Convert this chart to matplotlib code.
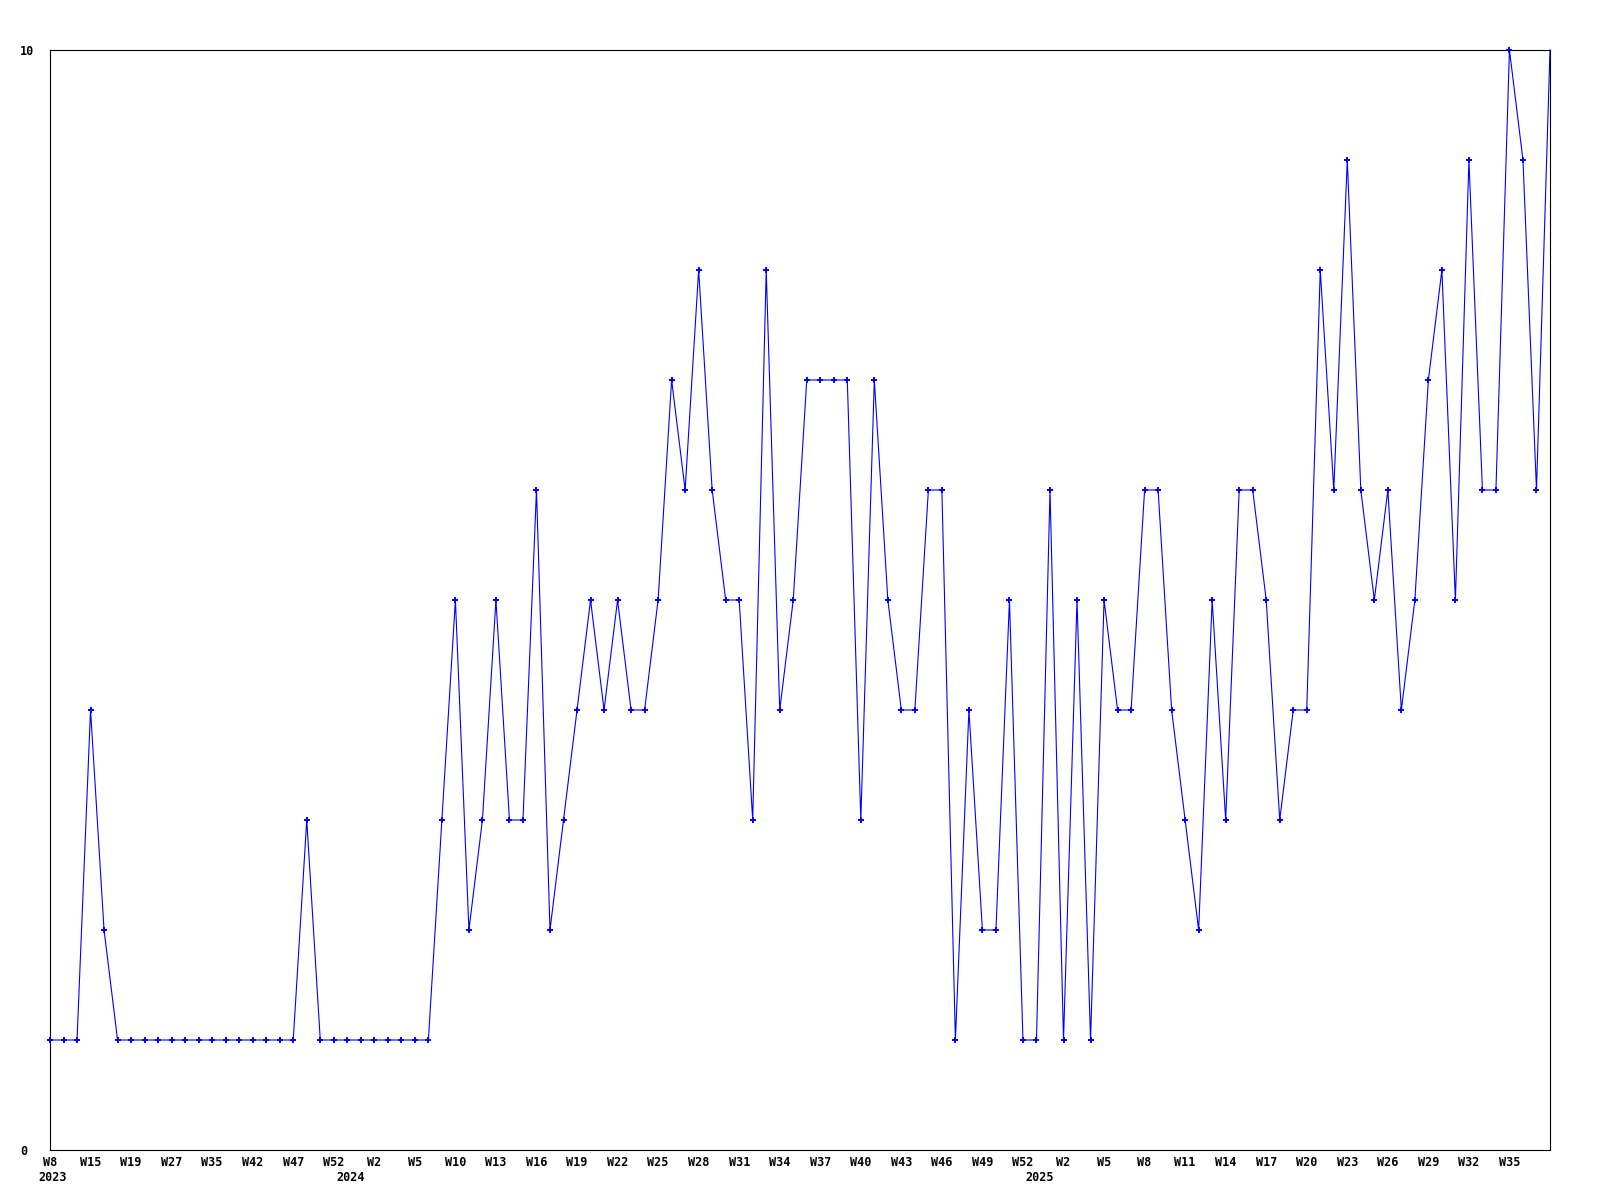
import matplotlib
matplotlib.use("Agg")
import matplotlib.pyplot as plt
import matplotlib.transforms as mtransforms

# weekly counts, one value per category point
values = [1, 1, 1, 4, 2, 1, 1, 1, 1, 1, 1, 1, 1, 1, 1, 1, 1, 1, 1, 3,
          1, 1, 1, 1, 1, 1, 1, 1, 1, 3, 5, 2, 3, 5, 3, 3, 6, 2, 3, 4,
          5, 4, 5, 4, 4, 5, 7, 6, 8, 6, 5, 5, 3, 8, 4, 5, 7, 7, 7, 7,
          3, 7, 5, 4, 4, 6, 6, 1, 4, 2, 2, 5, 1, 1, 6, 1, 5, 1, 5, 4,
          4, 6, 6, 4, 3, 2, 5, 3, 6, 6, 5, 3, 4, 4, 8, 6, 9, 6, 5, 6,
          4, 5, 7, 8, 5, 9, 6, 6, 10, 9, 6, 10]

# every third point gets a week label
week_labels = ["W8", "W15", "W19", "W27", "W35", "W42", "W47", "W52",
               "W2", "W5", "W10", "W13", "W16", "W19", "W22", "W25", "W28",
               "W31", "W34", "W37", "W40", "W43", "W46", "W49", "W52",
               "W2", "W5", "W8", "W11", "W14", "W17", "W20", "W23", "W26",
               "W29", "W32", "W35"]
label_step = 3

years = ["2023", "2024", "2025"]
year_index = [0, 22, 73]

x = list(range(len(values)))

fig = plt.figure(figsize=(16, 12), dpi=100)
ax = fig.add_axes([50 / 1600, 50 / 1200, 1500 / 1600, 1100 / 1200])

ax.plot(x, values, color="#0000ff", linewidth=0.8, clip_on=False, zorder=3)
ax.plot(x[:-1], values[:-1], linestyle="none", marker="+", markersize=4.5,
        markeredgewidth=1.4, color="#0000ff", clip_on=False, zorder=4)

ax.set_xlim(0, len(values) - 1)
ax.set_ylim(0, 10)

for s in ax.spines.values():
    s.set_color("black")
    s.set_linewidth(0.8)

mono = dict(family="DejaVu Sans Mono", weight="bold", size=8.5)

ax.set_xticks(x[::label_step][:len(week_labels)])
ax.set_xticklabels(week_labels, fontdict=mono)
ax.tick_params(axis="x", length=0, pad=4.5)

ax.set_yticks([0, 10])
ax.set_yticklabels(["0", "10"], fontdict=mono, ha="left")
ax.tick_params(axis="y", length=0, pad=21.5)

trans = mtransforms.blended_transform_factory(ax.transData, ax.transAxes)
trans = trans + mtransforms.ScaledTranslation(3 / 100, 0, fig.dpi_scale_trans)
for yr, i in zip(years, year_index):
    ax.text(i, -0.0195, yr, transform=trans, ha="center", va="top",
            fontdict=mono)

fig.savefig("out.png", dpi=100, facecolor="white")
